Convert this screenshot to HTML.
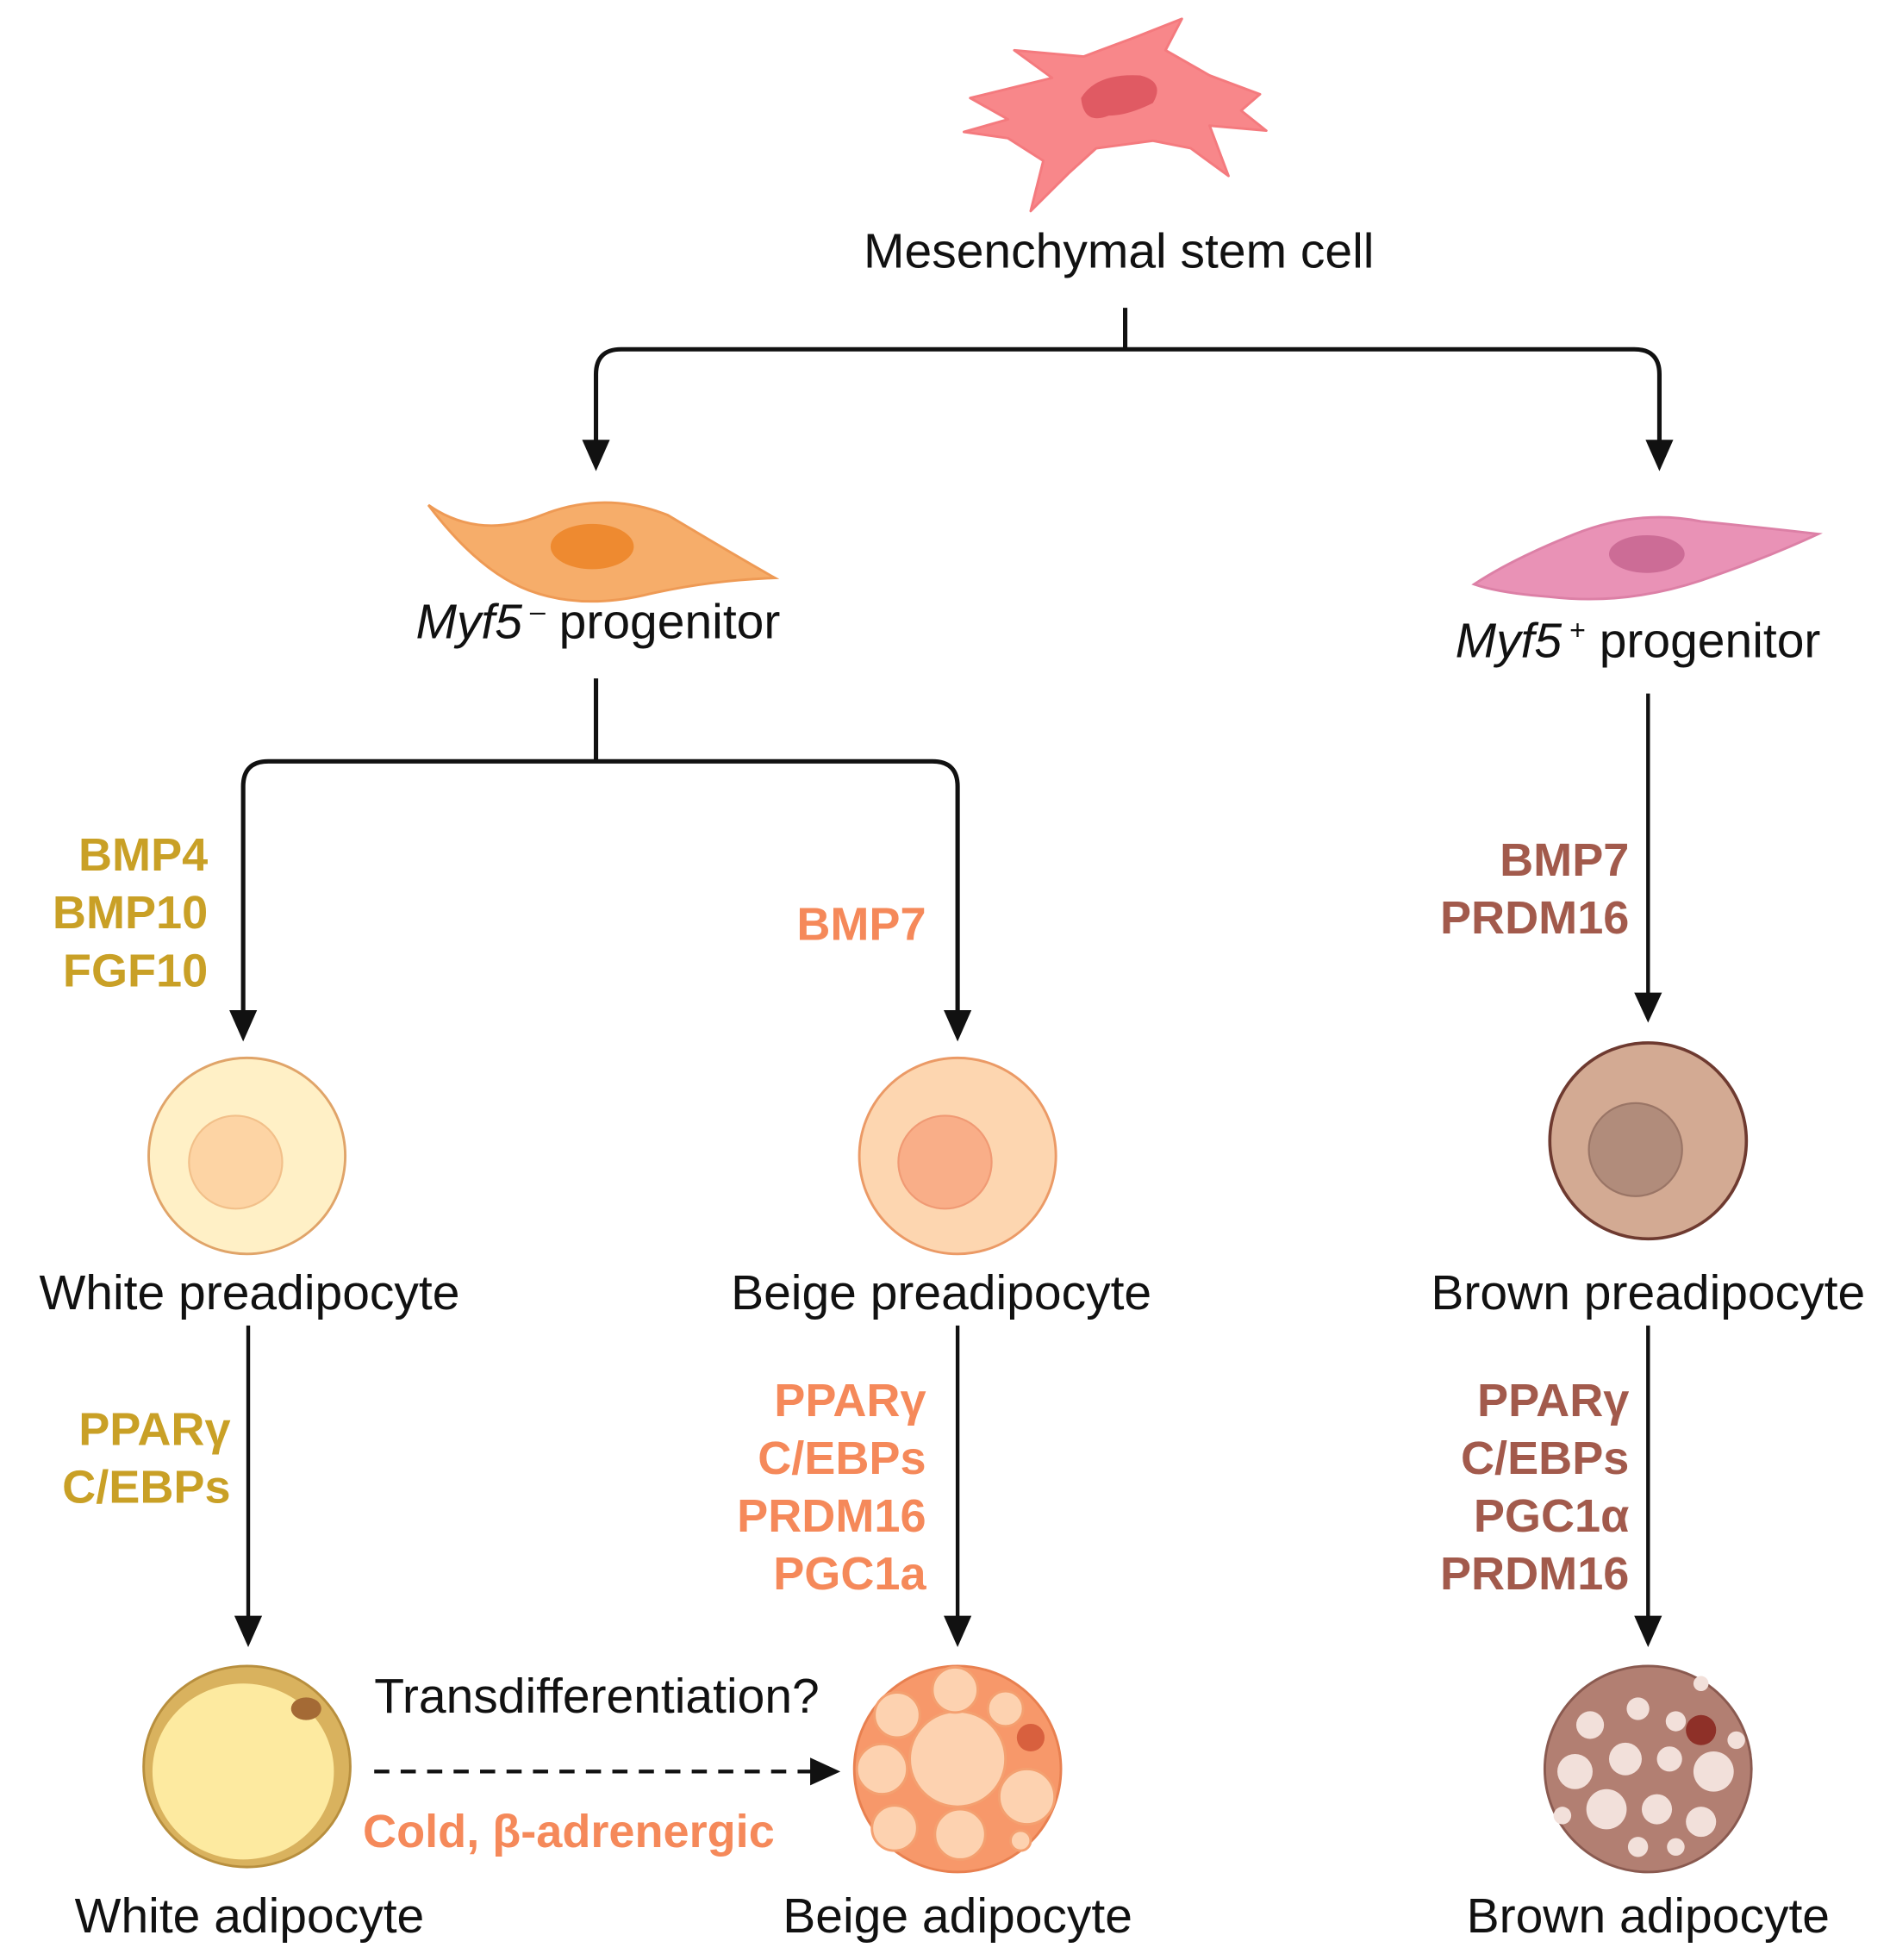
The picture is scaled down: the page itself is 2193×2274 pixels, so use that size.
<!DOCTYPE html>
<html><head><meta charset="utf-8"><style>
html,body{margin:0;padding:0;background:#fff;}
svg{display:block;}
text{font-family:"Liberation Sans",sans-serif;}
.lb{font-size:39px;fill:#111;}
.g{font-size:37px;font-weight:bold;fill:#c9a026;text-anchor:end;}
.o{font-size:37px;font-weight:bold;fill:#f5895a;text-anchor:end;}
.b{font-size:37px;font-weight:bold;fill:#a25a4c;text-anchor:end;}
</style></head><body>
<svg width="2193" height="2274" viewBox="0 0 1500 1560" preserveAspectRatio="none" xmlns="http://www.w3.org/2000/svg">
<!-- stem cell -->
<path d="M770,78 L835,62 L805,40 L860,45 L900,30 L938,15 L925,40 L960,60 L1000,75 L985,88 L1005,104 L960,100 L975,140 L945,118 L915,112 L870,118 L848,138 L818,168 L828,128 L800,110 L765,105 L800,95 Z" fill="#f8878a" stroke="#f47a7e" stroke-width="2" stroke-linejoin="round"/>
<path d="M858,78 Q870,58 905,60 Q925,65 915,82 Q895,92 880,92 Q860,100 858,78Z" fill="#e05a63"/>
<text class="lb" x="888" y="213" text-anchor="middle">Mesenchymal stem cell</text>
<g fill="none" stroke="#111" stroke-width="3.5">
<path d="M893,245 V278"/>
<path d="M473,362 V298 Q473,278 493,278 H1297 Q1317,278 1317,298 V362" />
<path d="M473,540 V606"/>
<path d="M193,815 V626 Q193,606 213,606 H740 Q760,606 760,626 V815"/>
<path d="M1308,552 V800" stroke-width="3"/>
<path d="M197,1055 V1296" stroke-width="3"/>
<path d="M760,1055 V1296" stroke-width="3"/>
<path d="M1308,1055 V1296" stroke-width="3"/>
</g>
<g fill="#111">
<path d="M462,350 L484,350 L473,375Z"/>
<path d="M1306,350 L1328,350 L1317,375Z"/>
<path d="M182,804 L204,804 L193,829Z"/>
<path d="M749,804 L771,804 L760,829Z"/>
<path d="M1297,790 L1319,790 L1308,814Z"/>
<path d="M186,1286 L208,1286 L197,1311Z"/>
<path d="M749,1286 L771,1286 L760,1311Z"/>
<path d="M1297,1286 L1319,1286 L1308,1311Z"/>
</g>
<path d="M340,402 Q380,430 430,410 Q480,390 530,410 Q580,440 615,460 Q560,462 510,474 Q460,485 420,470 Q380,455 340,402Z" fill="#f6ad6a" stroke="#ee9a55" stroke-width="2"/>
<ellipse cx="470" cy="435" rx="33" ry="18" fill="#ee8a30"/>
<text class="lb" x="330" y="508"><tspan font-style="italic">Myf5</tspan><tspan font-size="22" dy="-14"> –</tspan><tspan dy="14"> progenitor</tspan></text>
<path d="M1170,465 Q1200,445 1250,425 Q1300,405 1350,415 Q1400,420 1443,425 Q1400,445 1350,462 Q1290,482 1230,475 Q1190,472 1170,465Z" fill="#e992b6" stroke="#dc80a6" stroke-width="2"/>
<ellipse cx="1307" cy="441" rx="30" ry="15" fill="#cc6c96"/>
<text class="lb" x="1155" y="523"><tspan font-style="italic">Myf5</tspan><tspan font-size="22" dy="-14"> +</tspan><tspan dy="14"> progenitor</tspan></text>
<text class="g" x="165" y="693">BMP4</text>
<text class="g" x="165" y="739">BMP10</text>
<text class="g" x="165" y="785">FGF10</text>
<text class="o" x="735" y="748">BMP7</text>
<text class="b" x="1293" y="697">BMP7</text>
<text class="b" x="1293" y="743">PRDM16</text>
<circle cx="196" cy="920" r="78" fill="#fff0c6" stroke="#e0a469" stroke-width="2"/>
<circle cx="187" cy="925" r="37" fill="#fdd4a4" stroke="#f2c08a" stroke-width="1.5"/>
<circle cx="760" cy="920" r="78" fill="#fdd6b0" stroke="#eb9a66" stroke-width="2"/>
<circle cx="750" cy="925" r="37" fill="#f9ae88" stroke="#f09a74" stroke-width="1.5"/>
<circle cx="1308" cy="908" r="78" fill="#d3aa93" stroke="#6e3a30" stroke-width="2.5"/>
<circle cx="1298" cy="915" r="37" fill="#b18c7b" stroke="#9a7566" stroke-width="1.5"/>
<text class="lb" x="198" y="1042" text-anchor="middle">White preadipocyte</text>
<text class="lb" x="747" y="1042" text-anchor="middle">Beige preadipocyte</text>
<text class="lb" x="1308" y="1042" text-anchor="middle">Brown preadipocyte</text>
<text class="g" x="183" y="1150">PPARγ</text>
<text class="g" x="183" y="1196">C/EBPs</text>
<text class="o" x="735" y="1127">PPARγ</text>
<text class="o" x="735" y="1173">C/EBPs</text>
<text class="o" x="735" y="1219">PRDM16</text>
<text class="o" x="735" y="1265">PGC1a</text>
<text class="b" x="1293" y="1127">PPARγ</text>
<text class="b" x="1293" y="1173">C/EBPs</text>
<text class="b" x="1293" y="1219">PGC1α</text>
<text class="b" x="1293" y="1265">PRDM16</text>
<ellipse cx="196" cy="1406" rx="82" ry="80" fill="#d9b25e" stroke="#b88f3e" stroke-width="2"/>
<ellipse cx="193" cy="1410" rx="72" ry="70" fill="#fdeaa0"/>
<ellipse cx="243" cy="1360" rx="12" ry="9" fill="#a46a35"/>
<ellipse cx="760" cy="1408" rx="82" ry="82" fill="#f7986a" stroke="#e88050" stroke-width="2"/>
<g fill="#fdd2b0" stroke="#f4a070" stroke-width="2">
<circle cx="760" cy="1400" r="38"/><circle cx="712" cy="1365" r="18"/><circle cx="758" cy="1345" r="18"/>
<circle cx="798" cy="1360" r="14"/><circle cx="700" cy="1408" r="20"/><circle cx="710" cy="1455" r="18"/>
<circle cx="762" cy="1460" r="20"/><circle cx="815" cy="1430" r="22"/><circle cx="810" cy="1465" r="8"/>
</g>
<circle cx="818" cy="1383" r="11" fill="#d8603e"/>
<ellipse cx="1308" cy="1408" rx="82" ry="82" fill="#b27f72" stroke="#8a5a50" stroke-width="2"/>
<g fill="#f2e0da">
<circle cx="1262" cy="1373" r="11"/><circle cx="1300" cy="1360" r="9"/><circle cx="1330" cy="1370" r="8"/>
<circle cx="1250" cy="1410" r="14"/><circle cx="1290" cy="1400" r="13"/><circle cx="1325" cy="1400" r="10"/>
<circle cx="1360" cy="1410" r="16"/><circle cx="1275" cy="1440" r="16"/><circle cx="1315" cy="1440" r="12"/>
<circle cx="1350" cy="1450" r="12"/><circle cx="1300" cy="1470" r="8"/><circle cx="1240" cy="1445" r="7"/>
<circle cx="1350" cy="1340" r="6"/><circle cx="1378" cy="1385" r="7"/><circle cx="1330" cy="1470" r="7"/>
</g>
<circle cx="1350" cy="1377" r="12" fill="#8e3028"/>
<text class="lb" x="297" y="1363">Transdifferentiation?</text>
<path d="M297,1410 H645" stroke="#111" stroke-width="3" stroke-dasharray="12,9" fill="none"/>
<path d="M643,1399 L667,1410 L643,1421Z" fill="#111"/>
<text x="288" y="1470" style="font-size:37px;font-weight:bold;fill:#f5895a">Cold,  β-adrenergic</text>
<text class="lb" x="198" y="1538" text-anchor="middle">White adipocyte</text>
<text class="lb" x="760" y="1538" text-anchor="middle">Beige adipocyte</text>
<text class="lb" x="1308" y="1538" text-anchor="middle">Brown adipocyte</text>
</svg>
</body></html>
